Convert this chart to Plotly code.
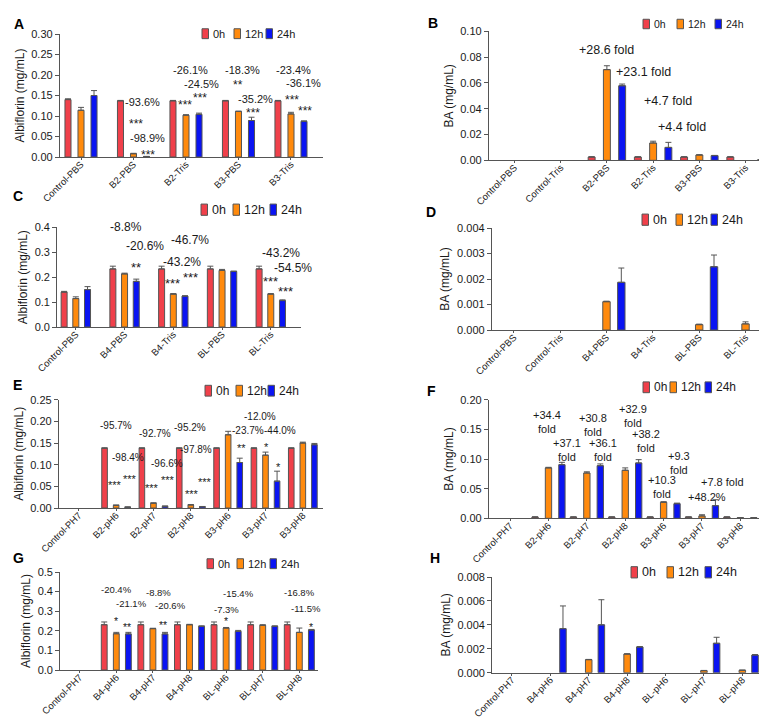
import plotly.graph_objects as go

FIG_W, FIG_H = 767, 718
FONT = "Liberation Sans, Arial, sans-serif"

series_names = ["0h", "12h", "24h"]
series_colors = ["#F0404A", "#FF8A0D", "#0A14F2"]

# ---------------- Panel A : Albiflorin ----------------
cats_A = ["Control-PBS", "B2-PBS", "B2-Tris", "B3-PBS", "B3-Tris"]
A_0h = [0.140, 0.137, 0.137, 0.137, 0.137]
A_12h = [0.114, 0.008, 0.102, 0.111, 0.105]
A_24h = [0.150, 0.001, 0.104, 0.089, 0.087]
A_err_0h = [0.002, 0.001, 0.001, 0.001, 0.001]
A_err_12h = [0.007, 0.001, 0.001, 0.001, 0.004]
A_err_24h = [0.012, 0.0005, 0.003, 0.008, 0.001]
notes_A = [("-93.6%", 1.17, 0.133), ("***", 1.04, 0.088), ("-98.9%", 1.27, 0.047), ("***", 1.28, 0.012),
           ("-26.1%", 2.09, 0.213), ("-24.5%", 2.30, 0.178), ("***", 1.98, 0.134), ("***", 2.26, 0.151),
           ("-18.3%", 3.08, 0.212), ("**", 3.00, 0.183), ("-35.2%", 3.33, 0.141), ("***", 3.27, 0.116),
           ("-23.4%", 4.05, 0.212), ("-36.1%", 4.23, 0.180), ("***", 4.02, 0.146), ("***", 4.27, 0.121)]

# ---------------- Panel B : BA ----------------
cats_B = ["Control-PBS", "Control-Tris", "B2-PBS", "B2-Tris", "B3-PBS", "B3-Tris"]
B_0h = [0, 0, 0.0025, 0.0025, 0.0025, 0.0025]
B_12h = [0, 0, 0.0703, 0.0134, 0.0041, 0]
B_24h = [0, 0, 0.0578, 0.0100, 0.0036, 0.0003]
B_err_0h = [0, 0, 0.0003, 0.0003, 0.0003, 0.0003]
B_err_12h = [0, 0, 0.0030, 0.0014, 0.0002, 0]
B_err_24h = [0, 0, 0.0013, 0.0039, 0.0002, 0]
notes_B = [("+28.6 fold", 2.00, 0.0853), ("+23.1 fold", 2.79, 0.0684),
           ("+4.7 fold", 3.33, 0.0457), ("+4.4 fold", 3.62, 0.0258)]

# ---------------- Panel C : Albiflorin ----------------
cats_C = ["Control-PBS", "B4-PBS", "B4-Tris", "BL-PBS", "BL-Tris"]
C_0h = [0.140, 0.233, 0.233, 0.233, 0.233]
C_12h = [0.114, 0.213, 0.132, 0.227, 0.132]
C_24h = [0.150, 0.183, 0.124, 0.223, 0.106]
C_err_0h = [0.003, 0.011, 0.011, 0.011, 0.011]
C_err_12h = [0.007, 0.003, 0.002, 0.004, 0.002]
C_err_24h = [0.012, 0.009, 0.001, 0.001, 0.003]
notes_C = [("-8.8%", 1.02, 0.400), ("-20.6%", 1.42, 0.324), ("**", 1.24, 0.254),
           ("-46.7%", 2.35, 0.350), ("-43.2%", 2.17, 0.261), ("***", 1.98, 0.190), ("***", 2.35, 0.213),
           ("-43.2%", 4.21, 0.297), ("-54.5%", 4.46, 0.237), ("***", 4.00, 0.199), ("***", 4.31, 0.156)]

# ---------------- Panel D : BA ----------------
cats_D = ["Control-PBS", "Control-Tris", "B4-PBS", "B4-Tris", "BL-PBS", "BL-Tris"]
D_0h = [0, 0, 0, 0, 0, 0]
D_12h = [0, 0, 0.00111, 0, 0.00021, 0.00024]
D_24h = [0, 0, 0.00187, 0, 0.00248, 0]
D_err_0h = [0, 0, 0, 0, 0, 0]
D_err_12h = [0, 0, 0.00002, 0, 0.00002, 0.00008]
D_err_24h = [0, 0, 0.00056, 0, 0.00046, 0]
notes_D = []

# ---------------- Panel E : Albiflorin ----------------
cats_E = ["Control-PH7", "B2-pH6", "B2-pH7", "B2-pH8", "B3-pH6", "B3-pH7", "B3-pH8"]
E_0h = [0, 0.138, 0.138, 0.138, 0.138, 0.138, 0.138]
E_12h = [0, 0.006, 0.011, 0.007, 0.169, 0.122, 0.150]
E_24h = [0, 0.002, 0.004, 0.003, 0.105, 0.062, 0.146]
E_err_0h = [0, 0.001, 0.001, 0.001, 0.001, 0.001, 0.001]
E_err_12h = [0, 0.001, 0.001, 0.001, 0.008, 0.007, 0.002]
E_err_24h = [0, 0.0005, 0.0005, 0.0005, 0.010, 0.023, 0.003]
notes_E = [("-95.7%", 1.00, 0.191), ("-98.4%", 1.32, 0.117), ("***", 0.97, 0.060), ("***", 1.36, 0.075),
           ("-92.7%", 2.03, 0.171), ("-96.6%", 2.35, 0.102), ("***", 1.95, 0.054), ("***", 2.39, 0.071),
           ("-95.2%", 2.99, 0.186), ("-97.8%", 3.15, 0.136), ("***", 3.02, 0.039), ("***", 3.37, 0.067),
           ("-12.0%", 4.84, 0.212), ("-23.7%", 4.52, 0.178), ("-44.0%", 5.38, 0.178),
           ("**", 4.35, 0.145), ("*", 5.02, 0.148), ("*", 5.34, 0.102)]

# ---------------- Panel F : BA ----------------
cats_F = ["Control-PH7", "B2-pH6", "B2-pH7", "B2-pH8", "B3-pH6", "B3-pH7", "B3-pH8"]
F_0h = [0, 0.002, 0.002, 0.002, 0.002, 0.002, 0.002]
F_12h = [0, 0.0850, 0.0764, 0.0810, 0.0270, 0.0040, 0.0010]
F_24h = [0, 0.0904, 0.0887, 0.0933, 0.0246, 0.0213, 0.0010]
F_err_0h = [0, 0.0005, 0.0005, 0.0005, 0.0005, 0.0005, 0.0005]
F_err_12h = [0, 0.001, 0.002, 0.004, 0.001, 0.002, 0]
F_err_24h = [0, 0.004, 0.003, 0.0056, 0.001, 0.010, 0]
notes_F = [("+34.4<br>fold", 0.97, 0.162), ("+37.1<br>fold", 1.49, 0.116),
           ("+30.8<br>fold", 2.15, 0.158), ("+36.1<br>fold", 2.41, 0.115),
           ("+32.9<br>fold", 3.19, 0.173), ("+38.2<br>fold", 3.54, 0.131),
           ("+9.3<br>fold", 4.40, 0.093), ("+10.3<br>fold", 3.97, 0.053),
           ("+7.8 fold", 5.54, 0.062), ("+48.2%", 5.12, 0.036)]

# ---------------- Panel G : Albiflorin ----------------
cats_G = ["Control-PH7", "B4-pH6", "B4-pH7", "B4-pH8", "BL-pH6", "BL-pH7", "BL-pH8"]
G_0h = [0, 0.231, 0.231, 0.231, 0.231, 0.231, 0.231]
G_12h = [0, 0.185, 0.211, 0.231, 0.214, 0.228, 0.192]
G_24h = [0, 0.184, 0.184, 0.223, 0.197, 0.223, 0.204]
G_err_0h = [0, 0.014, 0.014, 0.014, 0.014, 0.014, 0.014]
G_err_12h = [0, 0.007, 0.002, 0.002, 0.003, 0.003, 0.022]
G_err_24h = [0, 0.008, 0.008, 0.002, 0.005, 0.002, 0.003]
notes_G = [("-20.4%", 1.00, 0.413), ("-21.1%", 1.41, 0.337), ("*", 1.00, 0.265), ("**", 1.29, 0.235),
           ("-8.8%", 2.16, 0.396), ("-20.6%", 2.48, 0.328), ("**", 2.28, 0.245),
           ("-15.4%", 4.33, 0.389), ("-7.3%", 4.01, 0.311), ("*", 4.01, 0.265),
           ("-16.8%", 6.01, 0.393), ("-11.5%", 6.19, 0.313), ("*", 6.31, 0.235)]

# ---------------- Panel H : BA ----------------
cats_H = ["Control-PH7", "B4-pH6", "B4-pH7", "B4-pH8", "BL-pH6", "BL-pH7", "BL-pH8"]
H_0h = [0, 0, 0, 0, 0, 0, 0]
H_12h = [0, 0, 0.00109, 0.00156, 0, 0.00017, 0.00020]
H_24h = [0, 0.00368, 0.00400, 0.00215, 0, 0.00246, 0.00148]
H_err_0h = [0, 0, 0, 0, 0, 0, 0]
H_err_12h = [0, 0, 0.00002, 0.00002, 0, 0.00002, 0.00002]
H_err_24h = [0, 0.0019, 0.0021, 0.00003, 0, 0.0005, 0.00003]
notes_H = []

ALB = "Albiflorin (mg/mL)"
BA = "BA (mg/mL)"

# layout of each panel (pixel geometry, styles)
panels = [
    dict(key="A", cats=cats_A, vals=[A_0h, A_12h, A_24h], errs=[A_err_0h, A_err_12h, A_err_24h], notes=notes_A,
         ytitle=ALB, yrange=[0, 0.30], dtick=0.05, fmt=".2f", xdom=(52, 315), ydom=(26, 149),
         xrange=[-0.40, 4.61], spacing=0.248, width=0.115, note_font=11,
         leg_x=[194, 226, 258], leg_y=25.7, leg_font=11, letter=(11, 16)),
    dict(key="B", cats=cats_B, vals=[B_0h, B_12h, B_24h], errs=[B_err_0h, B_err_12h, B_err_24h], notes=notes_B,
         ytitle=BA, yrange=[0, 0.10], dtick=0.02, fmt=".2f", xdom=(481, 757), ydom=(23.3, 152.3),
         xrange=[-0.55, 5.42], spacing=0.33, width=0.15, note_font=12.5,
         leg_x=[635, 669, 707], leg_y=16, leg_font=10.5, letter=(425, 15)),
    dict(key="C", cats=cats_C, vals=[C_0h, C_12h, C_24h], errs=[C_err_0h, C_err_12h, C_err_24h], notes=notes_C,
         ytitle=ALB, yrange=[0, 0.4], dtick=0.1, fmt=".1f", xdom=(49.3, 293), ydom=(219.3, 319),
         xrange=[-0.38, 4.62], spacing=0.24, width=0.123, note_font=12,
         leg_x=[193, 225, 262], leg_y=201.7, leg_font=12.5, letter=(10, 188)),
    dict(key="D", cats=cats_D, vals=[D_0h, D_12h, D_24h], errs=[D_err_0h, D_err_12h, D_err_24h], notes=notes_D,
         ytitle=BA, yrange=[0, 0.004], dtick=0.001, fmt=".3f", xdom=(484, 760.7), ydom=(220, 322),
         xrange=[-0.47, 5.5], spacing=0.32, width=0.16, note_font=12,
         leg_x=[634, 668, 703], leg_y=211.7, leg_font=12.5, letter=(423, 204)),
    dict(key="E", cats=cats_E, vals=[E_0h, E_12h, E_24h], errs=[E_err_0h, E_err_12h, E_err_24h], notes=notes_E,
         ytitle=ALB, yrange=[0, 0.25], dtick=0.05, fmt=".2f", xdom=(51, 315), ydom=(391.7, 500),
         xrange=[-0.53, 6.54], spacing=0.31, width=0.15, note_font=10,
         leg_x=[197, 228, 260], leg_y=382.7, leg_font=12, letter=(9, 377)),
    dict(key="F", cats=cats_F, vals=[F_0h, F_12h, F_24h], errs=[F_err_0h, F_err_12h, F_err_24h], notes=notes_F,
         ytitle=BA, yrange=[0, 0.20], dtick=0.05, fmt=".2f", xdom=(481, 752.7), ydom=(391.7, 510.3),
         xrange=[-0.55, 6.53], spacing=0.35, width=0.165, note_font=11,
         leg_x=[635, 662, 697], leg_y=379.3, leg_font=12, letter=(423, 383)),
    dict(key="G", cats=cats_G, vals=[G_0h, G_12h, G_24h], errs=[G_err_0h, G_err_12h, G_err_24h], notes=notes_G,
         ytitle=ALB, yrange=[0, 0.5], dtick=0.1, fmt=".1f", xdom=(52.3, 310), ydom=(564, 662),
         xrange=[-0.53, 6.51], spacing=0.33, width=0.16, note_font=9.5,
         leg_x=[199, 229, 262], leg_y=555.7, leg_font=11, letter=(10, 550)),
    dict(key="H", cats=cats_H, vals=[H_0h, H_12h, H_24h], errs=[H_err_0h, H_err_12h, H_err_24h], notes=notes_H,
         ytitle=BA, yrange=[0, 0.008], dtick=0.002, fmt=".3f", xdom=(484.3, 754.3), ydom=(569, 664.7),
         xrange=[-0.51, 6.52], spacing=0.33, width=0.17, note_font=12,
         leg_x=[623, 659, 697], leg_y=564.3, leg_font=12.5, letter=(427, 550)),
]


def px_x(p):
    return p / FIG_W


def px_y(p):
    return 1 - p / FIG_H


AXIS_COLOR = "#555555"
TEXT_COLOR = "#1a1a1a"
EDGE = "#555555"

fig = go.Figure()
annotations = []
shapes = []
layout_axes = {}

for i, p in enumerate(panels):
    n = i + 1
    sfx = "" if n == 1 else str(n)
    xref, yref = "x" + sfx, "y" + sfx
    for j in range(3):
        offset = (j - 1) * p["spacing"] - p["width"] / 2
        yvals = [v if v else None for v in p["vals"][j]]
        errs = p["errs"][j]
        fig.add_trace(go.Bar(
            x=p["cats"], y=yvals, name=series_names[j],
            xaxis=xref, yaxis=yref, offset=offset, width=p["width"],
            marker=dict(color=series_colors[j], line=dict(color=EDGE, width=1)),
            error_y=dict(type="data", array=errs, arrayminus=[0] * len(errs), symmetric=False,
                         color=EDGE, thickness=1, width=3),
            showlegend=False,
        ))
    layout_axes["xaxis" + sfx] = dict(
        domain=[px_x(p["xdom"][0]), px_x(p["xdom"][1])], anchor=yref,
        type="category", categoryorder="array", categoryarray=p["cats"],
        range=p["xrange"], showline=True, linecolor=AXIS_COLOR, linewidth=1.3,
        ticks="outside", ticklen=2, tickcolor=AXIS_COLOR, tickangle=-45,
        ticklabelstandoff=-5,
        tickfont=dict(size=9.5, color=TEXT_COLOR, family=FONT), showgrid=False, zeroline=False,
        automargin=False,
    )
    layout_axes["yaxis" + sfx] = dict(
        domain=[px_y(p["ydom"][1]), px_y(p["ydom"][0])], anchor=xref,
        range=p["yrange"], dtick=p["dtick"], tick0=0, tickformat=p["fmt"],
        showline=True, linecolor=AXIS_COLOR, linewidth=1.3,
        ticks="outside", ticklen=4, tickcolor=AXIS_COLOR,
        tickfont=dict(size=11, color=TEXT_COLOR, family=FONT), showgrid=False, zeroline=False,
        title=dict(text=p["ytitle"], font=dict(size=12, color=TEXT_COLOR, family=FONT), standoff=4),
        automargin=False,
    )
    # value annotations
    for text, xv, yv in p["notes"]:
        star = text.startswith("*")
        annotations.append(dict(
            text=text, x=xv, y=yv, xref=xref, yref=yref, showarrow=False,
            xanchor="center", yanchor="middle",
            yshift=-0.3 * p["note_font"] if star else 0,
            font=dict(size=p["note_font"] + (1 if star else 0), color=TEXT_COLOR, family=FONT),
        ))
    # legend (swatch + label)
    lf = p["leg_font"]
    for j in range(3):
        sx = p["leg_x"][j]
        sh = lf * 0.9
        shapes.append(dict(type="rect", xref="paper", yref="paper",
                           x0=px_x(sx), x1=px_x(sx + 6.5),
                           y0=px_y(p["leg_y"] + sh / 2), y1=px_y(p["leg_y"] - sh / 2),
                           fillcolor=series_colors[j], line=dict(color=EDGE, width=1)))
        annotations.append(dict(text=series_names[j], x=px_x(sx + 9), y=px_y(p["leg_y"]),
                                xref="paper", yref="paper", showarrow=False,
                                xanchor="left", yanchor="middle",
                                font=dict(size=lf, color=TEXT_COLOR, family=FONT)))
    # panel letter
    annotations.append(dict(text="<b>%s</b>" % p["key"], x=px_x(p["letter"][0]), y=px_y(p["letter"][1]),
                            xref="paper", yref="paper", showarrow=False,
                            xanchor="center", yanchor="middle",
                            font=dict(size=14, color="#000000", family=FONT)))

fig.update_layout(
    template="none",
    width=FIG_W, height=FIG_H,
    margin=dict(l=0, r=0, t=0, b=0),
    paper_bgcolor="white", plot_bgcolor="rgba(0,0,0,0)",
    barmode="overlay",
    showlegend=False,
    font=dict(family=FONT, color=TEXT_COLOR),
    annotations=annotations,
    shapes=shapes,
    **layout_axes,
)

fig.write_html("out.html")
